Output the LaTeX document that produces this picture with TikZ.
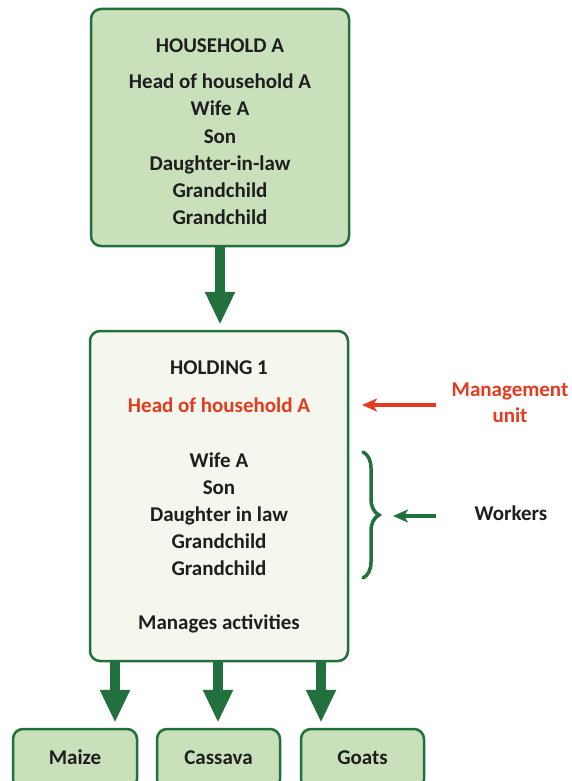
\documentclass[tikz,border=0pt]{standalone}
\usepackage{fontspec}
\setmainfont{Carlito}
\usetikzlibrary{arrows.meta,decorations.pathreplacing,calc}
\definecolor{dkgreen}{RGB}{33,112,62}
\definecolor{ltgreen}{RGB}{201,224,187}
\definecolor{paper}{RGB}{245,246,238}
\definecolor{mured}{RGB}{228,58,30}
\definecolor{txt}{RGB}{30,30,30}
\begin{document}
\begin{tikzpicture}[x=1pt,y=-1pt,
  box/.style={draw=dkgreen,line width=2.5pt,rounded corners=10pt,inner sep=0pt},
  lbl/.style={font=\bfseries\fontsize{21}{27}\selectfont,text=txt,align=center,inner sep=0pt,anchor=base},
  bigarrow/.style={draw=dkgreen,line width=10pt,-{Triangle[width=28pt,length=33pt]}},
  smallarrow/.style={line width=4pt,-{Stealth[length=15pt,width=13pt,inset=4pt]}}]
\clip (0,0) rectangle (572,781);
\fill[white] (0,0) rectangle (572,781);
% boxes
\node[box,fill=ltgreen,minimum width=258pt,minimum height=237pt] (hh) at (220,127.5) {};
\node[box,fill=paper,minimum width=258pt,minimum height=330pt] (hold) at (219,496) {};
\node[box,fill=ltgreen,minimum width=124pt,minimum height=60pt] (maize) at (75,759) {};
\node[box,fill=ltgreen,minimum width=123pt,minimum height=60pt] (cass) at (218.5,759) {};
\node[box,fill=ltgreen,minimum width=123pt,minimum height=60pt] (goats) at (362.5,759) {};
% household text
\node[lbl] (hht) at (220,53) {HOUSEHOLD A};
\foreach \t [count=\i] in {Head of household A,Wife A,Son,Daughter-in-law,Grandchild,Grandchild}
  \node[lbl] (hh\i) at (220,62+27*\i) {\t};
% holding text
\node[lbl] (holdt) at (219,374) {HOLDING 1};
\node[lbl,text=mured] (head) at (219,412) {Head of household A};
\foreach \t [count=\i] in {Wife A,Son,Daughter in law,Grandchild,Grandchild}
  \node[lbl] (w\i) at (219,440+27*\i) {\t};
\node[lbl] (man) at (219,629) {Manages activities};
% bottom labels
\node[lbl] (mzt) at (75,764) {Maize};
\node[lbl] (cst) at (218.5,764) {Cassava};
\node[lbl] (gtt) at (362.5,764) {Goats};
% side labels
\node[lbl,text=mured] (mu1) at (510,396) {Management};
\node[lbl,text=mured] (mu2) at (510,422) {unit};
\node[lbl] (wk) at (511,520) {Workers};
% arrows
\draw[bigarrow,shorten >=5pt] (hh.south) -- (hh.south |- hold.north);
\coordinate (c1) at (115,0);
\coordinate (c2) at (218,0);
\coordinate (c3) at (321,0);
\draw[bigarrow,shorten >=5pt] (hold.south -| c1) -- (maize.north -| c1);
\draw[bigarrow,shorten >=5pt] (hold.south -| c2) -- (cass.north -| c2);
\draw[bigarrow,shorten >=5pt] (hold.south -| c3) -- (goats.north -| c3);
\coordinate (ra) at (436,405);
\coordinate (rb) at (362,405);
\draw[smallarrow,draw=mured,fill=mured] (ra) -- (rb);
\coordinate (wa) at (436,516);
\coordinate (wb) at (393,516);
\draw[smallarrow,draw=dkgreen,fill=dkgreen] (wa) -- (wb);
% brace
\coordinate (b1) at (363,452);
\coordinate (b2) at (363,578);
\draw[dkgreen,line width=3.5pt,line cap=round,decorate,decoration={brace,amplitude=16pt}] (b1) -- (b2);
\end{tikzpicture}
\end{document}
